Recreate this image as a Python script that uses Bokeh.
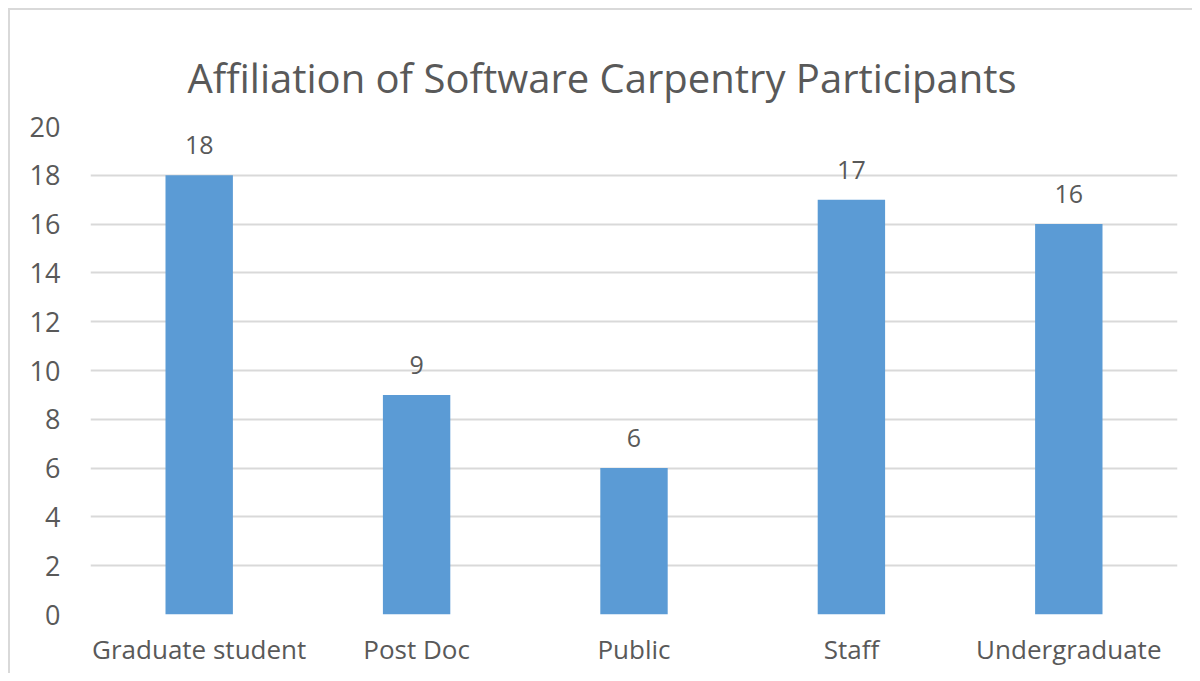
from bokeh.plotting import figure
from bokeh.models import ColumnDataSource, SingleIntervalTicker, Range1d, FactorRange
from bokeh.embed import file_html
from bokeh.resources import INLINE
from bokeh.core.properties import value

categories = ["Graduate student", "Post Doc", "Public", "Staff", "Undergraduate"]
counts = [18, 9, 6, 17, 16]
title_text = "Affiliation of Software Carpentry Participants"

FONT = "Open Sans"
TXT = "#595959"

src = ColumnDataSource(dict(cat=categories, n=counts, lbl=[str(v) for v in counts]))

p = figure(x_range=FactorRange(*categories, range_padding=0), y_range=Range1d(0, 20),
           width=1184, height=665, output_backend="svg", toolbar_location=None,
           min_border_left=80, min_border_right=17, min_border_top=116, min_border_bottom=61)
p.outline_line_color = None
p.background_fill_color = "white"
p.border_fill_color = "white"

p.vbar(x="cat", top="n", width=0.31, source=src, color="#5B9BD5", line_color=None)
p.text(x="cat", y="n", text="lbl", source=src, text_align="center", text_baseline="alphabetic",
       y_offset=-30, text_font=value(FONT), text_font_size="25px", text_color=TXT)

p.title.text = title_text
p.title.align = "left"
p.title.vertical_align = "middle"
p.title.offset = 97
p.title.standoff = 42
p.title.text_font = FONT
p.title.text_font_size = "40px"
p.title.text_font_style = "normal"
p.title.text_color = TXT

p.yaxis.ticker = SingleIntervalTicker(interval=2)
p.ygrid.ticker = SingleIntervalTicker(interval=2)
p.ygrid.grid_line_color = "#D9D9D9"
p.ygrid.grid_line_width = 2
p.xgrid.grid_line_color = None

for ax in (p.xaxis[0], p.yaxis[0]):
    ax.axis_line_color = None
    ax.major_tick_line_color = None
    ax.minor_tick_line_color = None
    ax.major_label_text_font = FONT
    ax.major_label_text_color = TXT
p.xaxis.major_label_text_font_size = "26px"
p.yaxis.major_label_text_font_size = "27px"
p.yaxis.major_label_standoff = 24
p.xaxis.major_label_standoff = 10

p.styles = {"margin": "8px 0 0 8px", "border-top": "2px solid #D9D9D9", "border-left": "2px solid #D9D9D9"}

open("out.html", "w").write(file_html(p, INLINE))
